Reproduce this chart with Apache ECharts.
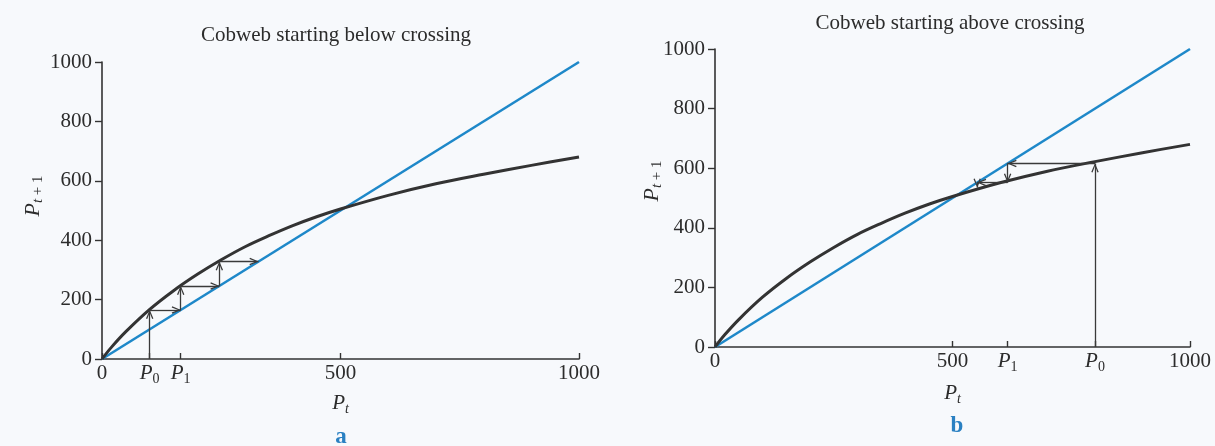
<!DOCTYPE html>
<html><head><meta charset="utf-8">
<script src="https://cdn.jsdelivr.net/npm/echarts@6/dist/echarts.min.js"></script>
<style>html,body{margin:0;padding:0;background:#f7f9fc}#c{width:1215px;height:446px}</style>
</head><body><div id="c"></div>
<script>
// ---- data ----
const curveP    = [0, 20, 50, 100, 150, 200, 250, 300, 350, 400, 450, 500, 600, 700, 800, 900, 1000];
const curveNext = [0, 40, 92, 167, 230, 285, 334, 378, 415, 449, 479, 505, 551, 590, 622, 652, 680];
const diagonal  = [[0, 0], [1000, 1000]];
const titles = ['Cobweb starting below crossing', 'Cobweb starting above crossing'];
const panelLetters = ['a', 'b'];
const xTickValuesA = [0, 100, 165, 500, 1000];
const xTickLabelsA = ['0', 'P0', 'P1', '500', '1000'];
const cobwebA = [[100, 0], [100, 165], [165, 165], [165, 246], [246, 246], [246, 328], [328, 328]];
const xTickValuesB = [0, 500, 616, 800, 1000];
const xTickLabelsB = ['0', '500', 'P1', 'P0', '1000'];
const cobwebB = [[800, 0], [800, 616], [616, 616], [616, 552], [552, 552], [552, 535]];

// ---- styling ----
const SERIF = '"Liberation Serif","DejaVu Serif",serif';
const TXT = '#2c2c2c', AX = '#333333', CURVE = '#333333', BLUE = '#1e88c9', ARROWC = '#3a3a3a', LETTER = '#2a80c2';
const ARROW = 'path://M0,0 L0.01,0 L0.01,0.01 Z M16,0 L15.99,0 L15.99,0.01 Z M8,8 L11.3,16 L10.2,16.5 L8,10.7 L5.8,16.5 L4.7,16 Z';

const curveData = curveP.map((p, i) => [p, curveNext[i]]);
function segs(path) { const out = []; for (let i = 0; i < path.length - 1; i++) out.push([{ coord: path[i] }, { coord: path[i + 1] }]); return out; }
const richSub = {
  p: { fontFamily: SERIF, fontStyle: 'italic', fontSize: 21, lineHeight: 26, color: TXT },
  s: { fontFamily: SERIF, fontSize: 14, lineHeight: 12, verticalAlign: 'bottom', color: TXT },
  si: { fontFamily: SERIF, fontStyle: 'italic', fontSize: 14, lineHeight: 12, verticalAlign: 'bottom', color: TXT }
};
function fmtLabel(t) { return /^P\d$/.test(t) ? '{p|P}{s|' + t.slice(1) + '}' : t; }

function xAxisCfg(gi, vals, labels, gap) {
  return {
    type: 'value', gridIndex: gi, min: 0, max: 1000,
    name: '{p|P}{si|t}', nameLocation: 'middle', nameGap: gap,
    nameTextStyle: { rich: richSub },
    axisLine: { lineStyle: { color: AX, width: 1.6 } },
    axisTick: { inside: true, length: 6, customValues: vals, lineStyle: { color: AX, width: 1.4 } },
    axisLabel: { customValues: vals, margin: 1, color: TXT, fontFamily: SERIF, fontSize: 21, lineHeight: 26,
      formatter: v => fmtLabel(labels[vals.indexOf(v)]), rich: richSub },
    splitLine: { show: false }
  };
}
function yAxisCfg(gi) {
  return {
    type: 'value', gridIndex: gi, min: 0, max: 1000, interval: 200,
    axisLine: { show: true, lineStyle: { color: AX, width: 1.6 } },
    axisTick: { show: true, inside: false, length: 7, lineStyle: { color: AX, width: 1.4 } },
    axisLabel: { margin: 10, color: TXT, fontFamily: SERIF, fontSize: 21, formatter: v => String(v) },
    splitLine: { show: false }
  };
}
function panelSeries(gi, cobweb) {
  return [
    { type: 'line', xAxisIndex: gi, yAxisIndex: gi, data: diagonal, showSymbol: false, silent: true,
      lineStyle: { color: BLUE, width: 2.6 }, z: 3 },
    { type: 'line', xAxisIndex: gi, yAxisIndex: gi, data: curveData, smooth: 0.35,
      showSymbol: false, silent: true, lineStyle: { color: CURVE, width: 3 }, z: 4 },
    { type: 'line', xAxisIndex: gi, yAxisIndex: gi, data: [], silent: true, z: 5,
      markLine: { silent: true, symbol: ['none', ARROW], symbolSize: 18, label: { show: false },
        emphasis: { disabled: true }, animation: false,
        lineStyle: { color: ARROWC, width: 1.3, type: 'solid' }, data: segs(cobweb) } }
  ];
}
function yName(x, y) {
  return { type: 'text', x: x, y: y, rotation: Math.PI / 2, silent: true,
    style: { text: '{p|P}{si|t}{s| + 1}', align: 'center', verticalAlign: 'middle',
      rich: {
        p: { fontFamily: SERIF, fontStyle: 'italic', fontSize: 22, lineHeight: 26, fill: TXT },
        si: { fontFamily: SERIF, fontStyle: 'italic', fontSize: 15, lineHeight: 12, verticalAlign: 'bottom', fill: TXT },
        s: { fontFamily: SERIF, fontSize: 15, lineHeight: 12, verticalAlign: 'bottom', fill: TXT }
      } } };
}
function txt(x, y, text, font, color) {
  return { type: 'text', x: x, y: y, silent: true,
    style: { text: text, font: font, fill: color, align: 'center', verticalAlign: 'middle' } };
}

const chart = echarts.init(document.getElementById('c'), null, { renderer: 'canvas' });
chart.setOption({
  backgroundColor: '#f7f9fc',
  animation: false,
  grid: [
    { left: 102, top: 62, width: 477, height: 297 },
    { left: 715, top: 49, width: 475, height: 298 }
  ],
  xAxis: [xAxisCfg(0, xTickValuesA, xTickLabelsA, 31), xAxisCfg(1, xTickValuesB, xTickLabelsB, 33)],
  yAxis: [yAxisCfg(0), yAxisCfg(1)],
  series: [...panelSeries(0, cobwebA), ...panelSeries(1, cobwebB)],
  graphic: [
    txt(336, 35, titles[0], '21px ' + SERIF, TXT),
    txt(950, 23, titles[1], '21px ' + SERIF, TXT),
    yName(33, 196),
    yName(652, 181),
    txt(341, 437, panelLetters[0], 'bold 23px ' + SERIF, LETTER),
    txt(957, 426, panelLetters[1], 'bold 23px ' + SERIF, LETTER)
  ]
});
</script></body></html>
